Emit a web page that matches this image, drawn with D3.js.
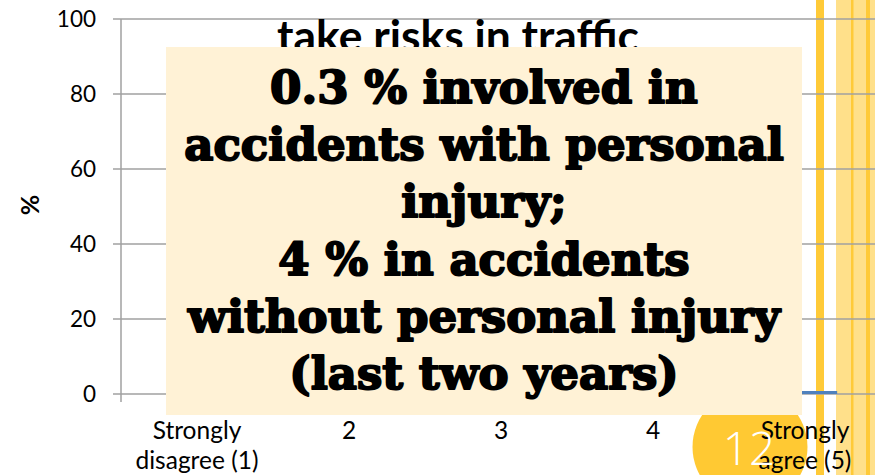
<!DOCTYPE html>
<html>
<head>
<meta charset="utf-8">
<script src="https://cdn.jsdelivr.net/npm/d3@7"></script>
<style>
  body { margin: 0; background: #fff; }
  svg { display: block; }
</style>
</head>
<body>
<svg id="chart" width="875" height="475"></svg>
<script>
// Chart data
const categories = ["Strongly disagree (1)", "2", "3", "4", "Strongly agree (5)"];
const categoryLines = [["Strongly", "disagree (1)"], ["2"], ["3"], ["4"], ["Strongly", "agree (5)"]];
// only the last bar is visible, the rest sit behind the text box
const shares = [55, 28, 11, 5, 0.8];
const yTicks = [0, 20, 40, 60, 80, 100];
const title = "take risks in traffic";
const boxLines = [
    "0.3 % involved in",
    "accidents with personal",
    "injury;",
    "4 % in accidents",
    "without personal injury",
    "(last two years)"
];
const slideNumber = "12";

const svg = d3.select("#chart");
const sansFont = "Lato, 'Open Sans', sans-serif";

// Scales
const x = d3.scaleBand().domain(categories).range([121, 881]).padding(0);
const y = d3.scaleLinear().domain([0, 100]).range([394, 19]);

// Slide decoration behind the chart: yellow stripes on the right
const stripes = svg.append("g");
stripes.append("rect").attr("x", 836).attr("y", 0).attr("width", 39).attr("height", 475).attr("fill", "#ffe08a");
stripes.append("rect").attr("x", 816).attr("y", 0).attr("width", 8).attr("height", 475).attr("fill", "#ffca38");
stripes.append("rect").attr("x", 851).attr("y", 0).attr("width", 2.5).attr("height", 475).attr("fill", "#ffca38");
stripes.append("rect").attr("x", 866).attr("y", 0).attr("width", 4).attr("height", 475).attr("fill", "#ffca38");

// Slide number circle
svg.append("circle").attr("cx", 750).attr("cy", 447).attr("r", 57.5).attr("fill", "#ffc933");

// Gridlines
svg.append("g")
    .selectAll("line")
    .data(yTicks)
    .enter().append("line")
    .attr("x1", 113).attr("x2", 875)
    .attr("y1", d => y(d)).attr("y2", d => y(d))
    .attr("stroke", "#a0a0a0")
    .attr("stroke-width", 1.5);

// Y axis line
svg.append("line")
    .attr("x1", 121).attr("x2", 121)
    .attr("y1", y(100)).attr("y2", y(0) + 8)
    .attr("stroke", "#a0a0a0")
    .attr("stroke-width", 1.5);

// Category tick marks between bands
svg.append("g")
    .selectAll("line")
    .data(categories.slice(1))
    .enter().append("line")
    .attr("x1", d => x(d)).attr("x2", d => x(d))
    .attr("y1", y(0)).attr("y2", y(0) + 8)
    .attr("stroke", "#a0a0a0")
    .attr("stroke-width", 1.5);

// Y tick labels
svg.append("g")
    .selectAll("text")
    .data(yTicks)
    .enter().append("text")
    .attr("x", 96)
    .attr("y", d => y(d) + 8)
    .attr("text-anchor", "end")
    .attr("font-family", sansFont)
    .attr("font-size", 22.5)
    .attr("fill", "#000")
    .text(d => d);

// Y axis title
svg.append("text")
    .attr("transform", "translate(39,205) rotate(-90)")
    .attr("text-anchor", "middle")
    .attr("font-family", sansFont)
    .attr("font-weight", "bold")
    .attr("font-size", 25)
    .text("%");

// Bars
const barW = x.bandwidth() * 0.41;
svg.append("g")
    .selectAll("rect")
    .data(shares)
    .enter().append("rect")
    .attr("x", (d, i) => x(categories[i]) + x.bandwidth() / 2 - barW / 2 + 1)
    .attr("y", d => y(d))
    .attr("width", barW)
    .attr("height", d => y(0) - y(d))
    .attr("fill", "#4f81bd");

// Category labels
const catLabels = svg.append("g")
    .selectAll("text")
    .data(categories)
    .enter().append("text")
    .attr("text-anchor", "middle")
    .attr("font-family", sansFont)
    .attr("font-size", 24.5)
    .attr("fill", "#000");
catLabels.each(function (d, i) {
    const cx = x(d) + x.bandwidth() / 2;
    d3.select(this).selectAll("tspan")
        .data(categoryLines[i])
        .enter().append("tspan")
        .attr("x", cx)
        .attr("y", (t, j) => 439 + j * 30)
        .text(t => t);
});

// Chart title (partly hidden by the box)
const titleText = svg.append("text")
    .attr("x", 458)
    .attr("y", 52)
    .attr("text-anchor", "middle")
    .attr("font-family", sansFont)
    .attr("font-weight", "bold")
    .attr("font-size", 33)
    .text(title);
fitWidth(titleText, 362, 33);

// Text box overlay
svg.append("rect")
    .attr("x", 166).attr("y", 47)
    .attr("width", 636).attr("height", 368)
    .attr("fill", "#fff2d6");

const boxText = svg.append("g")
    .selectAll("text")
    .data(boxLines)
    .enter().append("text")
    .attr("x", 484)
    .attr("y", (d, i) => 103 + i * 57.2)
    .attr("text-anchor", "middle")
    .attr("font-family", "'DejaVu Serif', serif")
    .attr("font-weight", "bold")
    .attr("font-size", 40)
    .attr("fill", "#000")
    .attr("stroke", "#000")
    .attr("stroke-width", 2)
    .attr("stroke-linejoin", "round")
    .text(d => d);

// scale the box font so the widest line matches the reference
const widest = boxText.filter(d => d === "without personal injury").node().getComputedTextLength();
boxText.attr("font-size", 40 * 592 / widest);

// Slide number
svg.append("text")
    .attr("x", 749)
    .attr("y", 465)
    .attr("text-anchor", "middle")
    .attr("font-family", "'Open Sans', sans-serif")
    .attr("font-weight", 300)
    .attr("font-size", 46)
    .attr("fill", "#fff")
    .text(slideNumber);

function fitWidth(sel, target, size) {
    const w = sel.node().getComputedTextLength();
    sel.attr("font-size", size * target / w);
}
</script>
</body>
</html>
